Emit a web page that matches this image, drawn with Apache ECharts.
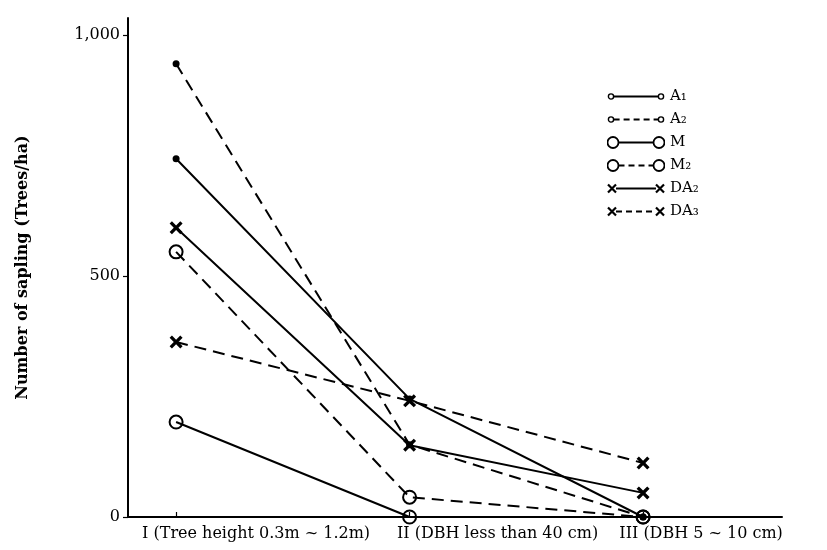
<!DOCTYPE html>
<html>
<head>
<meta charset="utf-8">
<script src="https://cdn.jsdelivr.net/npm/echarts@6/dist/echarts.min.js"></script>
<style>
html,body{margin:0;padding:0;background:#fff;}
#chart{width:827px;height:550px;}
</style>
</head>
<body>
<div id="chart"></div>
<script>
// ---- data ----
const categories = ['I (Tree height 0.3m ~ 1.2m)', 'II (DBH less than 40 cm)', 'III (DBH 5 ~ 10 cm)'];
const categoryPos = [1, 2, 3];
const yTicks = [0, 500, 1000];
const seriesNames = ['A\u2081', 'A\u2082', 'M', 'M\u2082', 'DA\u2082', 'DA\u2083'];
const A1 = [743, 245, 0];
const A2 = [940, 150, 0];
const M1 = [197, 0, 0];
const M2 = [550, 41, 0];
const DA2 = [600, 149, 50];
const DA3 = [363, 241, 112];

const seriesValues = [A1, A2, M1, M2, DA2, DA3];
const seriesKinds = ['dot', 'dot', 'ring', 'ring', 'cross', 'cross'];
const seriesDashed = [false, true, false, true, false, true];

const FONT = 'DejaVu Serif';
const XPATH = 'path://M0,1.8L1.8,0L5,3.2L8.2,0L10,1.8L6.8,5L10,8.2L8.2,10L5,6.8L1.8,10L0,8.2L3.2,5Z';

function iconSvg(kind, dashed) {
  const w = 58, h = 14, y = 7;
  let s = '<svg xmlns="http://www.w3.org/2000/svg" width="' + w + '" height="' + h + '" viewBox="0 0 ' + w + ' ' + h + '">';
  let x1, x2;
  if (kind === 'dot') { x1 = 4; x2 = 54; }
  else if (kind === 'ring') { x1 = 6; x2 = 52; }
  else { x1 = 5; x2 = 53; }
  const r = kind === 'dot' ? 2.6 : 5.5;
  const lx1 = kind === 'cross' ? x1 + 4 : x1 + r;
  const lx2 = kind === 'cross' ? x2 - 4 : x2 - r;
  s += '<line x1="' + lx1 + '" y1="' + y + '" x2="' + lx2 + '" y2="' + y + '" stroke="#000" stroke-width="1.8"' + (dashed ? ' stroke-dasharray="6,4"' : '') + '/>';
  [x1, x2].forEach(function (cx) {
    if (kind === 'cross') {
      s += '<path d="M' + (cx - 4) + ',' + (y - 4) + 'L' + (cx + 4) + ',' + (y + 4) + 'M' + (cx + 4) + ',' + (y - 4) + 'L' + (cx - 4) + ',' + (y + 4) + '" stroke="#000" stroke-width="2.2"/>';
    } else {
      s += '<circle cx="' + cx + '" cy="' + y + '" r="' + r + '" fill="#fff" stroke="#000" stroke-width="' + (kind === 'dot' ? 1.4 : 1.8) + '"/>';
    }
  });
  s += '</svg>';
  return 'image://data:image/svg+xml;charset=utf-8,' + encodeURIComponent(s);
}

function buildSeries(i) {
  const kind = seriesKinds[i];
  const s = {
    name: seriesNames[i],
    type: 'line',
    data: categoryPos.map(function (x, j) { return [x, seriesValues[i][j]]; }),
    lineStyle: { color: '#000', width: 2, type: seriesDashed[i] ? [12, 7] : 'solid' },
    emphasis: { disabled: true },
    z: 2
  };
  if (kind === 'dot') {
    s.symbol = 'circle';
    s.symbolSize = 7;
    s.itemStyle = { color: '#000', borderWidth: 0 };
  } else if (kind === 'ring') {
    s.symbol = 'circle';
    s.symbolSize = 13;
    s.itemStyle = { color: 'rgba(255,255,255,0)', borderColor: '#000', borderWidth: 2 };
  } else {
    s.symbol = XPATH;
    s.symbolSize = 13;
    s.itemStyle = { color: '#000', borderWidth: 0 };
  }
  return s;
}

const chart = echarts.init(document.getElementById('chart'), null, { renderer: 'canvas' });
chart.setOption({
  animation: false,
  backgroundColor: '#fff',
  textStyle: { fontFamily: FONT, color: '#000' },
  grid: { left: 128, right: 45, top: 18, bottom: 33, containLabel: false },
  legend: {
    orient: 'vertical',
    left: 602,
    top: 84,
    itemWidth: 58,
    itemHeight: 14,
    itemGap: 8,
    selectedMode: false,
    textStyle: { fontFamily: FONT, fontSize: 15, color: '#000' },
    data: seriesNames.map(function (n, i) { return { name: n, icon: iconSvg(seriesKinds[i], seriesDashed[i]) }; })
  },
  xAxis: {
    type: 'value',
    min: 0.794,
    max: 3.595,
    splitLine: { show: false },
    axisLine: { show: true, lineStyle: { color: '#000', width: 2 } },
    axisTick: { show: true, inside: true, length: 5, customValues: categoryPos, lineStyle: { color: '#000', width: 1.2 } },
    axisLabel: {
      show: true,
      customValues: categoryPos,
      formatter: function (v) { const i = categoryPos.indexOf(v); return '{c' + i + '|' + categories[i] + '}'; },
      fontFamily: FONT,
      fontSize: 16,
      color: '#000',
      margin: 9,
      align: 'center',
      rich: {
        c0: { fontFamily: FONT, fontSize: 16, color: '#000', padding: [0, 0, 0, 160] },
        c1: { fontFamily: FONT, fontSize: 16, color: '#000', padding: [0, 0, 0, 176] },
        c2: { fontFamily: FONT, fontSize: 16, color: '#000', padding: [0, 0, 0, 116] }
      }
    }
  },
  yAxis: {
    type: 'value',
    min: 0,
    max: 1035,
    name: 'Number of sapling (Trees/ha)',
    nameLocation: 'middle',
    nameGap: 97,
    nameTextStyle: { fontFamily: FONT, fontSize: 16, fontWeight: 'bold', color: '#000' },
    splitLine: { show: false },
    axisLine: { show: true, lineStyle: { color: '#000', width: 2 } },
    axisTick: { show: true, inside: false, length: 5, customValues: yTicks, lineStyle: { color: '#000', width: 1.2 } },
    axisLabel: {
      customValues: yTicks,
      formatter: function (v) { return v >= 1000 ? (Math.floor(v / 1000) + ',' + String(v % 1000).padStart(3, '0')) : String(v); },
      fontFamily: FONT,
      fontSize: 16,
      color: '#000',
      margin: 8
    }
  },
  series: seriesNames.map(function (n, i) { return buildSeries(i); })
});
</script>
</body>
</html>
